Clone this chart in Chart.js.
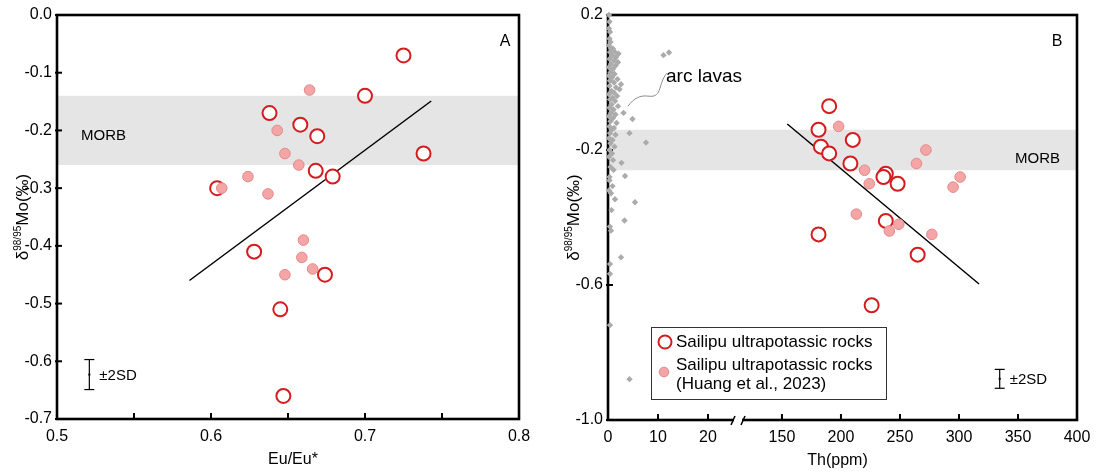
<!DOCTYPE html>
<html>
<head>
<meta charset="utf-8">
<script src="https://cdn.jsdelivr.net/npm/chart.js@4.4.0/dist/chart.umd.min.js"></script>
<style>
  html, body { margin: 0; padding: 0; background: #fff; }
  #wrap { position: relative; width: 1110px; height: 476px; }
  #chartA { position: absolute; left: 0; top: 0; }
  #chartB { position: absolute; left: 560px; top: 0; }
</style>
</head>
<body>
<div id="wrap">
  <canvas id="chartA" width="560" height="476"></canvas>
  <canvas id="chartB" width="550" height="476"></canvas>
</div>
<script>
// d98/95Mo values (same samples in both panels)
const moOpen   = [-0.07, -0.14, -0.17, -0.19, -0.21, -0.24, -0.27, -0.28, -0.30, -0.41, -0.45, -0.51, -0.66];
const euOpen   = [0.725, 0.700, 0.638, 0.658, 0.669, 0.738, 0.668, 0.679, 0.604, 0.628, 0.674, 0.645, 0.647];
const thOpen   = [190, 181, 210, 183, 190, 208, 238, 236, 248, 238, 181, 265, 226];

// Huang et al., 2023
const moFilled = [-0.13, -0.20, -0.24, -0.26, -0.28, -0.30, -0.31, -0.39, -0.42, -0.44, -0.45];
const euFilled = [0.664, 0.643, 0.648, 0.657, 0.624, 0.607, 0.637, 0.660, 0.659, 0.666, 0.648];
const thFilled = [198, 272, 264, 220, 301, 224, 295, 213, 249, 241, 277];

// arc lavas
const arcTh = [0.2,0.3,0.2,0.4,0.3,0.5,0.2,0.6,1.0,0.4,
  1.4,2.1,0.8,1.6,0.3,1.2,2.0,0.6,1.5,0.2,
  1.0,0.5,1.3,0.2,0.8,1.9,0.4,1.2,2.6,0.3,
  1.6,2.3,0.7,1.2,0.2,1.8,0.9,0.4,1.4,0.7,
  2.0,0.3,1.1,3.1,0.6,1.5,0.2,4.9,1.0,0.5,
  1.7,0.3,1.2,0.7,4.3,0.4,1.5,0.2,0.9,7.6,
  0.5,1.3,0.3,0.8,0.2,1.0,2.7,0.5,1.1,3.4,
  0.3,0.3,0.9,0.2,0.6,1.4,5.4,0.7,3.3,0.4,
  0.6,2.6,0.4,0.4,0.4,4.3,11.1,12.2];
const arcMo = [0.20,0.18,0.16,0.15,0.13,0.12,0.11,0.10,0.10,0.09,
  0.09,0.085,0.08,0.075,0.07,0.065,0.06,0.055,0.05,0.045,
  0.04,0.03,0.025,0.02,0.015,0.01,0.005,0.0,-0.005,-0.01,
  -0.015,-0.02,-0.025,-0.03,-0.035,-0.04,-0.045,-0.05,-0.055,-0.065,
  -0.07,-0.075,-0.08,-0.09,-0.09,-0.095,-0.10,-0.108,-0.105,-0.115,
  -0.12,-0.13,-0.135,-0.14,-0.15,-0.15,-0.155,-0.165,-0.17,-0.178,
  -0.18,-0.19,-0.20,-0.21,-0.22,-0.23,-0.238,-0.25,-0.259,-0.277,
  -0.28,-0.29,-0.307,-0.32,-0.328,-0.346,-0.355,-0.378,-0.409,-0.427,
  -0.439,-0.518,-0.538,-0.567,-0.719,-0.879,0.081,0.089];

// regression lines
const trendAx = [0.586, 0.743];
const trendAy = [-0.46, -0.149];
const trendBx = [154.5, 317];
const trendBy = [-0.123, -0.597];

const morbRange = [-0.14, -0.26];

// ±2SD bars: x, centre, half width
const sdA = [0.521, -0.623, 0.026];
const sdB = [334.5, -0.878, 0.028];

// ticks
const euTicks = [0.5, 0.55, 0.6, 0.65, 0.7, 0.75, 0.8];
const euLabels = ['0.5', '', '0.6', '', '0.7', '', '0.8'];
const moTicksA = [0, -0.1, -0.2, -0.3, -0.4, -0.5, -0.6, -0.7];
const moLabelsA = ['0.0', '-0.1', '-0.2', '-0.3', '-0.4', '-0.5', '-0.6', '-0.7'];
const thTicks = [0, 10, 20, 150, 200, 250, 300, 350, 400];
const moTicksB = [0.2, -0.2, -0.6, -1.0];
const moLabelsB = ['0.2', '-0.2', '-0.6', '-1.0'];

// broken Th axis: 0-25 on the first part, 117-400 on the second
const breakDomain = [0, 25, 117, 400];
const breakRange = [0, 125 / 469, 135 / 469, 1];

const RED = '#d41c1f';
const PINK = '#f4a6a6';
const PINK_EDGE = '#e4898a';
const FONT = '"Liberation Sans", Arial, sans-serif';

Chart.defaults.font.family = FONT;
Chart.defaults.color = '#000';

const pts = (xs, ys) => xs.map((x, i) => ({ x: x, y: ys[i] }));

function thToDec(v) {
  for (let i = 1; i < breakDomain.length; i++) {
    if (v <= breakDomain[i] || i === breakDomain.length - 1) {
      const t = (v - breakDomain[i - 1]) / (breakDomain[i] - breakDomain[i - 1]);
      return breakRange[i - 1] + t * (breakRange[i] - breakRange[i - 1]);
    }
  }
}
function decToTh(d) {
  for (let i = 1; i < breakRange.length; i++) {
    if (d <= breakRange[i] || i === breakRange.length - 1) {
      const t = (d - breakRange[i - 1]) / (breakRange[i] - breakRange[i - 1]);
      return breakDomain[i - 1] + t * (breakDomain[i] - breakDomain[i - 1]);
    }
  }
}

const LinearScale = Chart.LinearScale || Chart.scales.LinearScale;
class BrokenScale extends LinearScale {
  getPixelForValue(v) {
    return v == null ? NaN : this.getPixelForDecimal(thToDec(v));
  }
  getValueForPixel(p) {
    return decToTh(this.getDecimalForPixel(p));
  }
}
BrokenScale.id = 'broken';
BrokenScale.defaults = LinearScale.defaults;
Chart.register(BrokenScale);

function line(ctx, x1, y1, x2, y2) {
  ctx.beginPath();
  ctx.moveTo(x1, y1);
  ctx.lineTo(x2, y2);
  ctx.stroke();
}

// band + frame + inward ticks, under the points
const framePlugin = {
  id: 'frame',
  beforeDatasetsDraw(chart, args, opts) {
    const { ctx, chartArea: a, scales } = chart;
    const y1 = scales.y.getPixelForValue(morbRange[0]);
    const y2 = scales.y.getPixelForValue(morbRange[1]);
    ctx.save();
    ctx.fillStyle = '#e5e5e5';
    ctx.fillRect(a.left, y1, a.right - a.left, y2 - y1);

    ctx.strokeStyle = '#000';
    ctx.lineWidth = 2.6;
    ctx.strokeRect(a.left, a.top, a.right - a.left, a.bottom - a.top);

    ctx.lineWidth = 2;
    scales.x.ticks.forEach(t => {
      const px = scales.x.getPixelForValue(t.value);
      line(ctx, px, a.bottom, px, a.bottom - 6);
    });
    scales.y.ticks.forEach(t => {
      const py = scales.y.getPixelForValue(t.value);
      line(ctx, a.left - 2, py, a.left + 5, py);
    });

    if (opts.breaks) {
      const xl = scales.x.getPixelForValue(opts.breaks[0]);
      const xr = scales.x.getPixelForValue(opts.breaks[1]);
      ctx.fillStyle = '#fff';
      ctx.fillRect(xl + 1, a.bottom - 3, xr - xl - 2, 6);
      ctx.lineWidth = 1.5;
      line(ctx, xl - 2, a.bottom + 5, xl + 2, a.bottom - 4);
      line(ctx, xr - 2, a.bottom + 5, xr + 2, a.bottom - 4);
    }
    ctx.restore();
  }
};

function drawYTitle(ctx, x, y) {
  ctx.save();
  ctx.translate(x, y);
  ctx.rotate(-Math.PI / 2);
  ctx.fillStyle = '#000';
  ctx.textBaseline = 'alphabetic';
  ctx.textAlign = 'left';
  const big = '17px ' + FONT, small = '10px ' + FONT;
  ctx.font = big;
  const w1 = ctx.measureText('δ').width, w3 = ctx.measureText('Mo(‰)').width;
  ctx.font = small;
  const w2 = ctx.measureText('98/95').width;
  let cx = -(w1 + w2 + w3) / 2;
  ctx.font = big;
  ctx.fillText('δ', cx, 0);
  cx += w1;
  ctx.font = small;
  ctx.fillText('98/95', cx, -7);
  cx += w2;
  ctx.font = big;
  ctx.fillText('Mo(‰)', cx, 0);
  ctx.restore();
}

function drawText(ctx, txt, x, y, size, align) {
  ctx.font = size + 'px ' + FONT;
  ctx.textAlign = align || 'left';
  ctx.textBaseline = 'middle';
  ctx.fillStyle = '#000';
  ctx.fillText(txt, x, y);
}

function drawSD(ctx, xs, ys, sd) {
  const px = xs.getPixelForValue(sd[0]);
  const pc = ys.getPixelForValue(sd[1]);
  const pt = ys.getPixelForValue(sd[1] + sd[2]);
  const pb = ys.getPixelForValue(sd[1] - sd[2]);
  ctx.strokeStyle = '#000';
  ctx.lineWidth = 1.2;
  line(ctx, px, pt, px, pb);
  line(ctx, px - 5, pt, px + 5, pt);
  line(ctx, px - 5, pb, px + 5, pb);
  ctx.fillStyle = '#000';
  ctx.fillRect(px - 1, pc - 1, 2, 2);
  drawText(ctx, '±2SD', px + 10, pc + 1, 15);
}

const labelsA = {
  id: 'labelsA',
  afterDatasetsDraw(chart) {
    const { ctx, chartArea: a, scales } = chart;
    ctx.save();
    drawText(ctx, 'A', a.right - 14, a.top + 27, 16, 'center');
    drawText(ctx, 'MORB', a.left + 24, scales.y.getPixelForValue(-0.209), 15);
    drawSD(ctx, scales.x, scales.y, sdA);
    drawText(ctx, 'Eu/Eu*', (a.left + a.right) / 2 + 5, 460, 16, 'center');
    drawYTitle(ctx, a.left - 29, (a.top + a.bottom) / 2);
    ctx.restore();
  }
};

const labelsB = {
  id: 'labelsB',
  afterDatasetsDraw(chart) {
    const { ctx, chartArea: a, scales } = chart;
    ctx.save();
    drawText(ctx, 'B', a.right - 20, a.top + 27, 16, 'center');
    drawText(ctx, 'MORB', a.right - 17, scales.y.getPixelForValue(-0.227), 15, 'right');
    drawSD(ctx, scales.x, scales.y, sdB);
    drawText(ctx, 'Th(ppm)', (a.left + a.right) / 2 - 5, 461, 16, 'center');
    drawYTitle(ctx, a.left - 29, (a.top + a.bottom) / 2);

    // arc lavas label with leader
    const sx = scales.x.getPixelForValue(4.0), sy = scales.y.getPixelForValue(-0.07);
    ctx.strokeStyle = '#8c8c8c';
    ctx.lineWidth = 1;
    ctx.beginPath();
    ctx.moveTo(sx, sy);
    ctx.bezierCurveTo(sx + 6, sy - 8, sx + 12, sy - 11, sx + 20, sy - 10);
    ctx.bezierCurveTo(sx + 28, sy - 9, sx + 30, sy - 12, sx + 32, sy - 18);
    ctx.bezierCurveTo(sx + 34, sy - 25, sx + 36, sy - 30, sx + 39, sy - 33);
    ctx.stroke();
    ctx.font = '19px ' + FONT;
    ctx.textAlign = 'left';
    ctx.textBaseline = 'alphabetic';
    ctx.fillStyle = '#000';
    ctx.fillText('arc lavas', sx + 38, sy - 24);

    // legend box
    const lx = a.left + 43, ly = a.bottom - 93;
    ctx.fillStyle = '#fff';
    ctx.fillRect(lx, ly, 235, 72);
    ctx.strokeStyle = '#333';
    ctx.lineWidth = 1;
    ctx.strokeRect(lx + 0.5, ly + 0.5, 235, 72);
    ctx.beginPath();
    ctx.arc(lx + 14, ly + 15, 6.5, 0, Math.PI * 2);
    ctx.fillStyle = '#fff';
    ctx.fill();
    ctx.strokeStyle = RED;
    ctx.lineWidth = 2;
    ctx.stroke();
    ctx.beginPath();
    ctx.arc(lx + 13, ly + 45, 4.8, 0, Math.PI * 2);
    ctx.fillStyle = PINK;
    ctx.fill();
    ctx.strokeStyle = PINK_EDGE;
    ctx.lineWidth = 1;
    ctx.stroke();
    drawText(ctx, 'Sailipu ultrapotassic rocks', lx + 25, ly + 15, 17);
    drawText(ctx, 'Sailipu ultrapotassic rocks', lx + 25, ly + 38, 17);
    drawText(ctx, '(Huang et al., 2023)', lx + 25, ly + 57, 17);
    ctx.restore();
  }
};

function tickSetter(values) {
  return axis => { axis.ticks = values.map(v => ({ value: v })); };
}

const openStyle = {
  pointStyle: 'circle', pointRadius: 7, pointBorderWidth: 2,
  pointBorderColor: RED, pointBackgroundColor: '#fff', clip: false, order: 2
};
const filledStyle = {
  pointStyle: 'circle', pointRadius: 5.3, pointBorderWidth: 1,
  pointBorderColor: PINK_EDGE, pointBackgroundColor: PINK, clip: false, order: 1
};
const trendStyle = {
  showLine: true, pointRadius: 0, borderColor: '#000', borderWidth: 1.5,
  fill: false, clip: false, order: 3
};

new Chart(document.getElementById('chartA'), {
  type: 'scatter',
  data: {
    datasets: [
      Object.assign({ data: pts(trendAx, trendAy) }, trendStyle),
      Object.assign({ data: pts(euOpen, moOpen) }, openStyle),
      Object.assign({ data: pts(euFilled, moFilled) }, filledStyle)
    ]
  },
  options: {
    responsive: false,
    animation: false,
    events: [],
    layout: { padding: { left: 0, top: 15, right: 41, bottom: 0 } },
    plugins: { legend: { display: false }, tooltip: { enabled: false }, frame: {} },
    scales: {
      x: {
        type: 'linear', min: 0.5, max: 0.8,
        afterBuildTicks: tickSetter(euTicks),
        afterFit: s => { s.height = 57; },
        grid: { display: false, drawTicks: false },
        border: { display: false },
        ticks: { padding: 8, autoSkip: false, maxRotation: 0, font: { size: 16 },
                 callback: (v, i) => euLabels[i] }
      },
      y: {
        type: 'linear', min: -0.7, max: 0,
        afterBuildTicks: tickSetter(moTicksA),
        afterFit: s => { s.width = 57; },
        grid: { display: false, drawTicks: false },
        border: { display: false },
        ticks: { padding: 5, autoSkip: false, font: { size: 16 },
                 callback: (v, i) => moLabelsA[i] }
      }
    }
  },
  plugins: [framePlugin, labelsA]
});

new Chart(document.getElementById('chartB'), {
  type: 'scatter',
  data: {
    datasets: [
      { data: pts(arcTh, arcMo), pointStyle: 'rectRot', pointRadius: 3.2, pointBorderWidth: 0,
        pointBackgroundColor: '#ababab', clip: false, order: 4 },
      Object.assign({ data: pts(trendBx, trendBy) }, trendStyle),
      Object.assign({ data: pts(thOpen, moOpen) }, openStyle),
      Object.assign({ data: pts(thFilled, moFilled) }, filledStyle)
    ]
  },
  options: {
    responsive: false,
    animation: false,
    events: [],
    layout: { padding: { left: 0, top: 15, right: 33, bottom: 0 } },
    plugins: { legend: { display: false }, tooltip: { enabled: false }, frame: { breaks: [25, 117] } },
    scales: {
      x: {
        type: 'broken', min: 0, max: 400,
        afterBuildTicks: tickSetter(thTicks),
        afterFit: s => { s.height = 56; },
        grid: { display: false, drawTicks: false },
        border: { display: false },
        ticks: { padding: 8, autoSkip: false, maxRotation: 0, font: { size: 16 },
                 callback: v => String(v) }
      },
      y: {
        type: 'linear', min: -1.0, max: 0.2,
        afterBuildTicks: tickSetter(moTicksB),
        afterFit: s => { s.width = 48; },
        grid: { display: false, drawTicks: false },
        border: { display: false },
        ticks: { padding: 5, autoSkip: false, font: { size: 16 },
                 callback: (v, i) => moLabelsB[i] }
      }
    }
  },
  plugins: [framePlugin, labelsB]
});
</script>
</body>
</html>
